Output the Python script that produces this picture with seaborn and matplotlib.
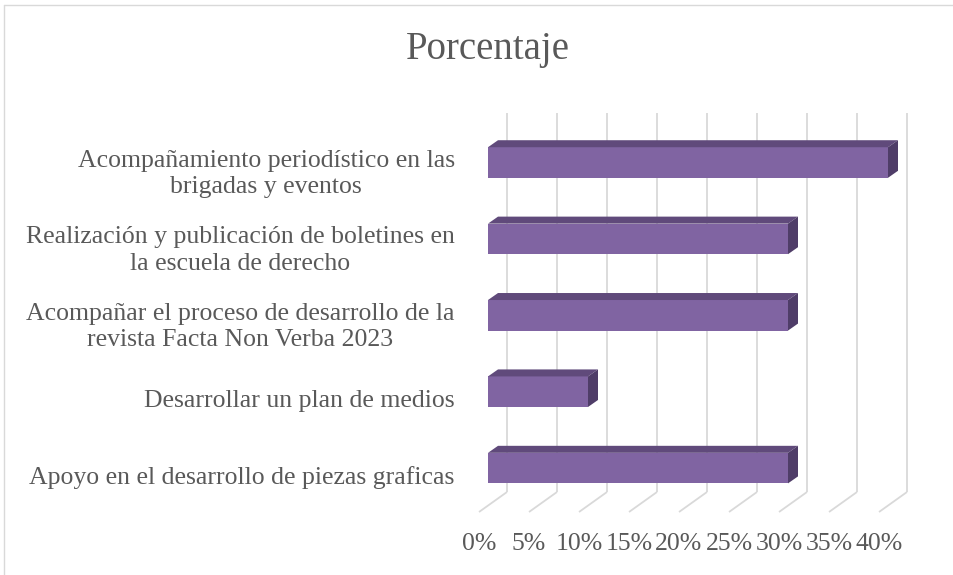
import matplotlib
matplotlib.use("Agg")
import matplotlib.pyplot as plt
import matplotlib.transforms as mtransforms
from matplotlib.patches import Polygon
from matplotlib.lines import Line2D
import seaborn as sns
import pandas as pd

# ---------------- data ----------------
categories = [
    "Acompañamiento periodístico en las\nbrigadas y eventos",
    "Realización y publicación de boletines en\nla escuela de derecho",
    "Acompañar el proceso de desarrollo de la\nrevista Facta Non Verba 2023",
    "Desarrollar un plan de medios",
    "Apoyo en el desarrollo de piezas graficas",
]
values = [40, 30, 30, 10, 30]
tick_values = [0, 5, 10, 15, 20, 25, 30, 35, 40]
tick_labels = ["0%", "5%", "10%", "15%", "20%", "25%", "30%", "35%", "40%"]
title = "Porcentaje"

df = pd.DataFrame({"cat": categories, "value": values})

# ---------------- style ----------------
sns.set_theme(style="white")
plt.rcParams["font.family"] = ["Liberation Serif", "DejaVu Serif"]
TEXT = "#595959"
GRID = "#D9D9D9"
FRONT = "#8064A2"
TOP = "#604A7B"
SIDE = "#4F3D68"
FS = 18.5

W, H = 954, 575
DPI = 100
fig = plt.figure(figsize=(W / DPI, H / DPI), dpi=DPI)

# axes geometry (pixels)
L_px, R_px, T_px, B_px = 470, 930, 100, 520
ax = fig.add_axes([L_px / W, 1 - B_px / H, (R_px - L_px) / W, (B_px - T_px) / H])

# pixel <-> data mapping
X0_px, PX_X = 488.0, 10.0       # x=0 at 488px, 10 px per unit
Y0_px, PX_Y = 162.5, 76.4       # first category centre, px per category

sns.barplot(data=df, x="value", y="cat", orient="h", color=FRONT,
            saturation=1, width=0.4, ax=ax, edgecolor="none", linewidth=0,
            zorder=3)

ax.set_xlim((L_px - X0_px) / PX_X, (R_px - X0_px) / PX_X)
ax.set_ylim((B_px - Y0_px) / PX_Y, (T_px - Y0_px) / PX_Y)

def dx(px):
    return px / PX_X

def dy(px):
    return px / PX_Y

# ---------------- 3D gridlines (back wall + floor) ----------------
wall_top = (113 - Y0_px) / PX_Y
wall_bot = (492 - Y0_px) / PX_Y
floor_front = (512 - Y0_px) / PX_Y
for t in tick_values:
    xb = t + dx(19)
    xf = t - dx(9)
    ax.plot([xb, xb], [wall_top, wall_bot], color=GRID, lw=1.3, zorder=1,
            solid_capstyle="butt")
    ax.plot([xb, xf], [wall_bot, floor_front], color=GRID, lw=1.3, zorder=1,
            solid_capstyle="butt")

# ---------------- 3D bar faces ----------------
ddx, ddy = dx(10), dy(7)
for p in list(ax.patches):
    x0 = p.get_x()
    x1 = x0 + p.get_width()
    ya = p.get_y()
    yb = ya + p.get_height()
    yt, ybot = min(ya, yb), max(ya, yb)
    top = Polygon([(x0, yt), (x1, yt), (x1 + ddx, yt - ddy), (x0 + ddx, yt - ddy)],
                  closed=True, facecolor=TOP, edgecolor="none", zorder=3)
    side = Polygon([(x1, yt), (x1 + ddx, yt - ddy), (x1 + ddx, ybot - ddy), (x1, ybot)],
                   closed=True, facecolor=SIDE, edgecolor="none", zorder=3)
    ax.add_patch(top)
    ax.add_patch(side)

# ---------------- axes cosmetics ----------------
for s in ax.spines.values():
    s.set_visible(False)
ax.grid(False)
ax.set_xlabel("")
ax.set_ylabel("")

ax.set_xticks(tick_values)
ax.set_xticklabels(tick_labels)
ax.tick_params(axis="x", length=0, pad=9.5, labelsize=FS, labelcolor=TEXT)
ax.tick_params(axis="y", length=0, pad=4.5, labelsize=FS, labelcolor=TEXT)

off_x = mtransforms.ScaledTranslation(-9 / DPI, 0, fig.dpi_scale_trans)
for lbl in ax.get_xticklabels():
    lbl.set_transform(lbl.get_transform() + off_x)

off_y = mtransforms.ScaledTranslation(-9 / DPI, -7 / DPI, fig.dpi_scale_trans)
for lbl in ax.get_yticklabels():
    lbl.set_transform(lbl.get_transform() + off_y)
    lbl.set_multialignment("center")
    lbl.set_linespacing(1.25)

# ---------------- title ----------------
fig.text(488 / W, 1 - 59 / H, title, ha="center", va="baseline",
         fontsize=28, color=TEXT)

# ---------------- chart border ----------------
fig.add_artist(Line2D([4.5 / W, 4.5 / W], [0, 1 - 4.5 / H], transform=fig.transFigure,
                      color=GRID, lw=1))
fig.add_artist(Line2D([4.5 / W, 1], [1 - 4.5 / H, 1 - 4.5 / H], transform=fig.transFigure,
                      color=GRID, lw=1))

fig.savefig("out.png", dpi=DPI)
